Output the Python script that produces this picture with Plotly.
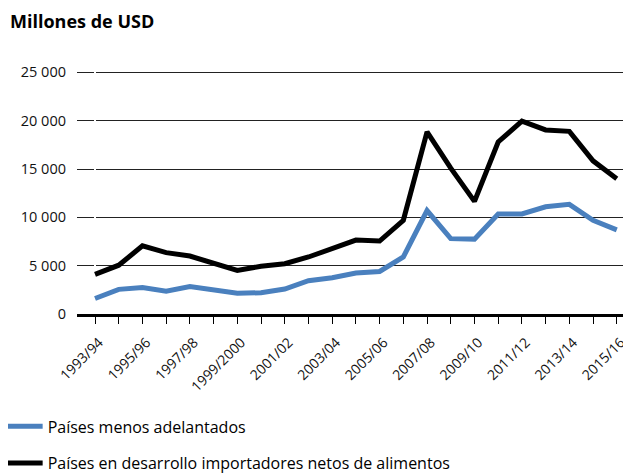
import plotly.graph_objects as go

seasons = ["1993/94", "1994/95", "1995/96", "1996/97", "1997/98", "1998/99",
           "1999/2000", "2000/01", "2001/02", "2002/03", "2003/04", "2004/05",
           "2005/06", "2006/07", "2007/08", "2008/09", "2009/10", "2010/11",
           "2011/12", "2012/13", "2013/14", "2014/15", "2015/16"]

pma = [1600, 2550, 2750, 2350, 2850, 2450, 2150, 2200, 2580, 3450, 3750, 4250,
       4400, 5900, 10700, 7800, 7750, 10350, 10350, 11100, 11350, 9700, 8700]

pdinea = [4100, 5050, 7050, 6350, 6000, 5300, 4500, 4950, 5200, 5900, 6750, 7650,
          7550, 9700, 18850, 15100, 11650, 17800, 19950, 19050, 18900, 15850, 14000]

tick_labels = ["1993/94", "", "1995/96", "", "1997/98", "", "1999/2000", "",
               "2001/02", "", "2003/04", "", "2005/06", "", "2007/08", "",
               "2009/10", "", "2011/12", "", "2013/14", "", "2015/16"]

idx = list(range(len(seasons)))

fig = go.Figure()

fig.add_trace(go.Scatter(
    x=idx, y=pma, mode="lines", name="Países menos adelantados",
    line=dict(color="#4a80be", width=5), legendgroup="a"
))
fig.add_trace(go.Scatter(
    x=idx, y=pdinea, mode="lines",
    name="Países en desarrollo importadores netos de alimentos",
    line=dict(color="#000000", width=5), legendgroup="b"
))

# the page body has an 8px margin, so the figure is 8px smaller
W, H = 623, 465
ymax = 25250
plot_h = 242
zero_y = 306
plot_top = zero_y - plot_h * ymax / 25000

fig.update_layout(
    width=W, height=H,
    margin=dict(l=69, r=0, t=plot_top, b=H - zero_y, autoexpand=False),
    plot_bgcolor="white", paper_bgcolor="white",
    font=dict(family="Open Sans", size=13, color="#111"),
    separators=", ",
    title=dict(text="<b>Millones de USD</b>", xref="container", yref="container",
               x=2 / W, y=1 - 14 / H, xanchor="left", yanchor="middle",
               font=dict(size=18, color="#000")),
    showlegend=True,
    legend=dict(x=-0.136, y=-0.391, xanchor="left", yanchor="top",
                font=dict(size=16, color="#000"), tracegroupgap=13,
                itemwidth=36),
)

fig.update_xaxes(
    range=[-0.76, 22.6], tickmode="array", tickvals=idx, ticktext=tick_labels,
    tickangle=-45, ticks="outside", ticklen=7, tickcolor="#000", tickwidth=1,
    showline=True, linecolor="#000", linewidth=2.5, showgrid=False,
    ticklabelstandoff=5, ticklabelshift=4,
    tickfont=dict(size=14, color="#111"),
)
fig.update_yaxes(
    range=[0, ymax], tickvals=[0, 5000, 10000, 15000, 20000, 25000],
    tickformat=",d", showgrid=True, gridcolor="#222", gridwidth=1,
    zeroline=False, ticks="", ticklabelstandoff=10,
    tickfont=dict(size=14.5, color="#111"),
)

fig.write_html("out.html")
